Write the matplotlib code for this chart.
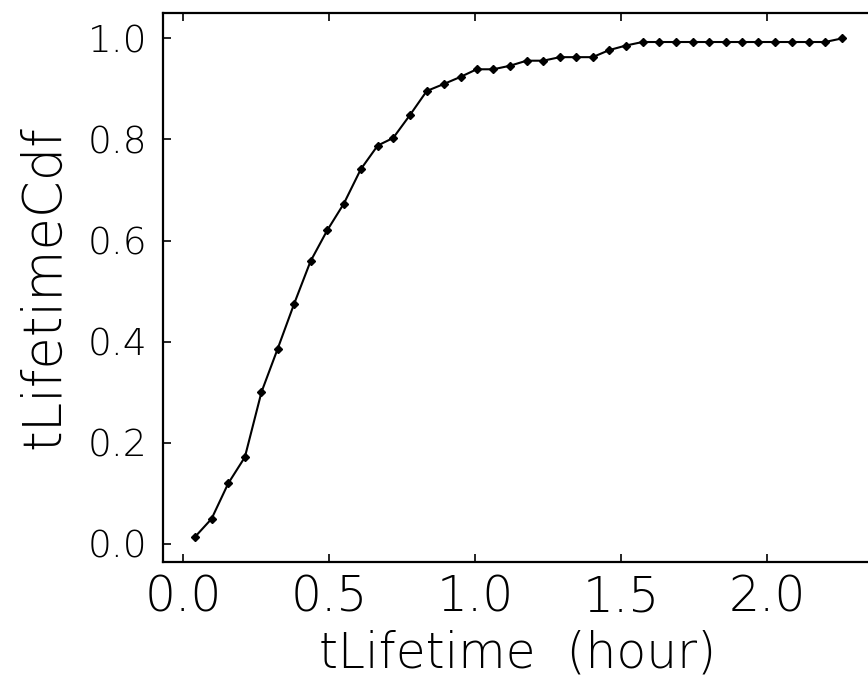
import matplotlib
matplotlib.use("Agg")
import matplotlib.pyplot as plt

# lifetime (hours) and cumulative fraction
lifetime = [0.040, 0.097, 0.154, 0.211, 0.268, 0.323, 0.380, 0.436, 0.493, 0.550,
            0.608, 0.666, 0.719, 0.776, 0.834, 0.893, 0.950, 1.005, 1.062, 1.119,
            1.176, 1.233, 1.290, 1.345, 1.402, 1.459, 1.516, 1.573, 1.630, 1.687,
            1.745, 1.800, 1.859, 1.913, 1.968, 2.026, 2.085, 2.143, 2.198, 2.255]
cdf = [0.013, 0.049, 0.119, 0.171, 0.300, 0.385, 0.475, 0.559, 0.620, 0.673,
       0.741, 0.788, 0.803, 0.848, 0.896, 0.910, 0.924, 0.939, 0.939, 0.946,
       0.956, 0.956, 0.963, 0.963, 0.963, 0.977, 0.986, 0.993, 0.993, 0.993,
       0.993, 0.993, 0.993, 0.993, 0.993, 0.993, 0.993, 0.993, 0.993, 1.000]

xticks = [0.0, 0.5, 1.0, 1.5, 2.0]
yticks = [0.0, 0.2, 0.4, 0.6, 0.8, 1.0]

plt.rcParams['font.family'] = ['DejaVu Sans']
thin = 200  # extra light, thin strokes like the original

fig = plt.figure(figsize=(8.68, 6.78), dpi=100)
ax = fig.add_axes([0.1874, 0.1715, 0.831, 0.809])

ax.plot(lifetime, cdf, color='black', lw=1.5, marker='D', ms=3.8)

ax.set_xlim(-0.0705, 2.4)
ax.set_ylim(-0.036, 1.05)
ax.set_xticks(xticks)
ax.set_yticks(yticks)
ax.set_xticklabels([f"{v:.1f}" for v in xticks], fontsize=35, fontweight=thin)
ax.set_yticklabels([f"{v:.1f}" for v in yticks], fontsize=27, fontweight=thin)

ax.tick_params(axis='x', direction='in', top=True, length=6, width=1.2, pad=8.5)
ax.tick_params(axis='y', direction='in', right=False, length=6, width=1.2, pad=11.3)

for s in ax.spines.values():
    s.set_linewidth(1.6)

ax.set_xlabel('tLifetime  (hour)', fontsize=35, fontweight=thin)
ax.set_ylabel('tLifetimeCdf', fontsize=38, fontweight=thin)
ax.xaxis.set_label_coords(0.4926, -0.1227)
ax.yaxis.set_label_coords(-0.1274, 0.5)

fig.savefig('out.png', dpi=100)
